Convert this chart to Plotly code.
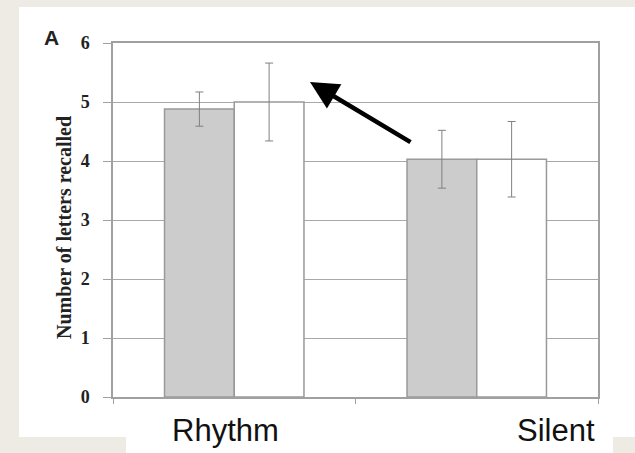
import plotly.graph_objects as go

categories = ["Rhythm", "Silent"]
gray_values = [4.88, 4.03]
gray_err = [0.29, 0.49]
white_values = [5.0, 4.03]
white_err = [0.66, 0.64]
y_ticks = [0, 1, 2, 3, 4, 5, 6]
y_title = "Number of letters recalled"
panel_label = "A"

W, H = 635, 453
L, R, T, B = 113, 598, 43, 397  # plot area in pixels
pw, ph = R - L, B - T
BEIGE = "#eeebe4"

def px(x):
    return (x - L) / pw

def py(y):
    return (B - y) / ph

fig = go.Figure()
fig.add_trace(go.Bar(
    x=categories, y=gray_values,
    marker=dict(color="#cccccc", line=dict(color="#999999", width=1.5)),
    error_y=dict(type="data", array=gray_err, color="#808080", thickness=1, width=4),
    showlegend=False,
))
fig.add_trace(go.Bar(
    x=categories, y=white_values,
    marker=dict(color="#ffffff", line=dict(color="#999999", width=1.5)),
    error_y=dict(type="data", array=white_err, color="#808080", thickness=1, width=4),
    showlegend=False,
))

shapes = [
    dict(type="rect", xref="paper", yref="paper", x0=px(19), x1=px(640), y0=py(437), y1=py(7),
         fillcolor="white", line=dict(width=0), layer="below"),
    dict(type="rect", xref="paper", yref="paper", x0=px(126), x1=px(613), y0=py(460), y1=py(436),
         fillcolor="white", line=dict(width=0), layer="below"),
]

annotations = [
    dict(text=panel_label, x=px(51), y=py(37), xref="paper", yref="paper", showarrow=False,
         xanchor="center", yanchor="middle",
         font=dict(family="Liberation Sans", size=21, color="#222222", weight="bold")),
    dict(text=y_title, x=px(64), y=py(228), xref="paper", yref="paper", showarrow=False,
         textangle=-90, xanchor="center", yanchor="middle",
         font=dict(family="Liberation Serif", size=20, color="#222222", weight="bold")),
    dict(text=categories[0], x=px(225), y=py(431), xref="paper", yref="paper", showarrow=False,
         xanchor="center", yanchor="middle",
         font=dict(family="Liberation Sans", size=31, color="#111111")),
    dict(text=categories[1], x=px(556), y=py(431), xref="paper", yref="paper", showarrow=False,
         xanchor="center", yanchor="middle",
         font=dict(family="Liberation Sans", size=31, color="#111111")),
    dict(text="", x=px(310), y=py(82), xref="paper", yref="paper", showarrow=True,
         ax=102, ay=61, axref="pixel", ayref="pixel",
         arrowhead=2, arrowwidth=4.5, arrowsize=1.25, arrowcolor="#000000"),
]

fig.update_layout(
    width=W, height=H,
    margin=dict(l=L, r=W - R, t=T, b=H - B, pad=0),
    paper_bgcolor=BEIGE,
    plot_bgcolor="white",
    barmode="group",
    bargap=0.425,
    bargroupgap=0,
    shapes=shapes,
    annotations=annotations,
    xaxis=dict(
        type="category", showticklabels=False, showgrid=False, showline=True,
        linecolor="#a0a0a0", linewidth=1.5, mirror=True, ticks="outside",
        tickson="boundaries", ticklen=5, tickcolor="#a0a0a0",
    ),
    yaxis=dict(
        range=[0, 6], tickvals=y_ticks, showgrid=True, gridcolor="#a8a8a8", gridwidth=1,
        showline=True, linecolor="#a0a0a0", linewidth=1.5, mirror=True,
        ticks="outside", ticklen=8, tickcolor="#a0a0a0", zeroline=False,
        ticklabelstandoff=10,
        tickfont=dict(family="Liberation Serif", size=18, color="#222222", weight="bold"),
    ),
)

fig.write_html(
    "out.html",
    config={"displayModeBar": False},
    post_script=(
        "document.documentElement.style.margin='0';"
        "document.body.style.margin='0';"
        "document.body.style.padding='0';"
        "document.body.style.background='" + BEIGE + "';"
    ),
)
